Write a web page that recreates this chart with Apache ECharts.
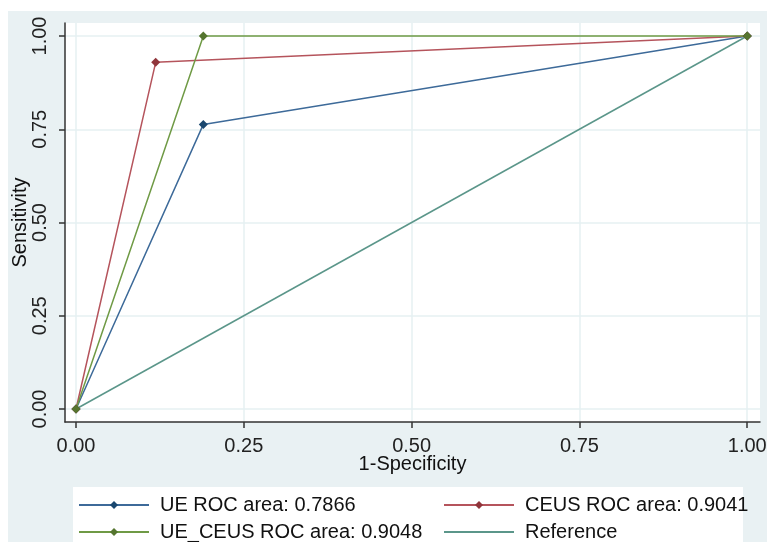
<!DOCTYPE html>
<html>
<head>
<meta charset="utf-8">
<script src="https://cdn.jsdelivr.net/npm/echarts@6/dist/echarts.min.js"></script>
<style>
  html, body { margin: 0; padding: 0; background: #fff; }
  #roc { width: 767px; height: 542px; }
</style>
</head>
<body>
<div id="roc"></div>
<script>
// ROC points: 1-Specificity (x) and Sensitivity (y)
var ueX = [0, 0.1897, 1];
var ueY = [0, 0.763, 1];
var ceusX = [0, 0.1187, 1];
var ceusY = [0, 0.9295, 1];
var ueCeusX = [0, 0.1897, 1];
var ueCeusY = [0, 1, 1];
var refX = [0, 1];
var refY = [0, 1];
var tickValues = [0, 0.25, 0.5, 0.75, 1];
var names = ['UE ROC area: 0.7866', 'CEUS ROC area: 0.9041', 'UE_CEUS ROC area: 0.9048', 'Reference'];

var pairs = function (xs, ys) {
    var res = [];
    for (var i = 0; i < xs.length; i++) {
        res.push([xs[i], ys[i]]);
    }
    return res;
};

var myChart = echarts.init(document.getElementById('roc'));
var font = 'Liberation Sans, Arial, sans-serif';

var rocSeries = function (name, xs, ys, lineColor, dotColor, showSym) {
    return {
        name: name,
        type: 'line',
        data: pairs(xs, ys),
        symbol: showSym ? 'diamond' : 'none',
        symbolSize: 9,
        showSymbol: showSym,
        itemStyle: { color: dotColor },
        lineStyle: { color: lineColor, width: 1.5 },
        animation: false
    };
};

// one legend per item so the 2x2 layout is fixed
var legendItem = function (name, left, top, noMarker) {
    var item = { name: name };
    if (noMarker) {
        item.itemStyle = { opacity: 0 };
    }
    return {
        data: [item],
        left: left, top: top,
        padding: 0,
        itemWidth: 70, itemHeight: 10, itemGap: 0,
        textStyle: { fontFamily: font, fontSize: 20, color: '#111', padding: [0, 0, 0, 6] }
    };
};

var option = {
    backgroundColor: '#fff',
    graphic: [
        { type: 'rect', shape: { x: 8, y: 11, width: 759, height: 531 }, style: { fill: '#e9f1f3' }, z: -10 },
        { type: 'rect', shape: { x: 65, y: 23, width: 695, height: 399 }, style: { fill: '#fff' }, z: -9 },
        { type: 'rect', shape: { x: 73, y: 487, width: 670, height: 55 }, style: { fill: '#fff' }, z: -9 }
    ],
    grid: { left: 65, right: 7, top: 23, bottom: 120, containLabel: false, outerBoundsMode: 'none' },
    legend: [
        legendItem(names[0], 78, 495),
        legendItem(names[2], 78, 522),
        legendItem(names[1], 443, 495),
        legendItem(names[3], 443, 522, true)
    ],
    xAxis: {
        type: 'value',
        min: -0.0164, max: 1.019,
        name: '1-Specificity',
        nameLocation: 'middle',
        nameGap: 32,
        nameMoveOverlap: false,
        nameTextStyle: { fontFamily: font, fontSize: 20, color: '#111' },
        axisLine: { show: true, onZero: false, lineStyle: { color: '#333', width: 1.5 } },
        axisTick: { show: true, length: 6, customValues: tickValues, lineStyle: { color: '#333', width: 1.5 } },
        axisLabel: {
            customValues: tickValues, margin: 14,
            fontFamily: font, fontSize: 20, color: '#222',
            formatter: function (v) { return v.toFixed(2); }
        },
        splitLine: { show: true, lineStyle: { color: '#e6f0f2', width: 1.5 } }
    },
    yAxis: {
        type: 'value',
        min: -0.0349, max: 1.0349,
        name: 'Sensitivity',
        nameLocation: 'middle',
        nameGap: 35,
        nameMoveOverlap: false,
        nameTextStyle: { fontFamily: font, fontSize: 20, color: '#111' },
        axisLine: { show: true, onZero: false, lineStyle: { color: '#333', width: 1.5 } },
        axisTick: { show: true, length: 6, customValues: tickValues, lineStyle: { color: '#333', width: 1.5 } },
        axisLabel: {
            customValues: tickValues, margin: 15, rotate: 90,
            fontFamily: font, fontSize: 20, color: '#222',
            formatter: function (v) { return v.toFixed(2); }
        },
        splitLine: { show: true, lineStyle: { color: '#e6f0f2', width: 1.5 } }
    },
    series: [
        rocSeries(names[0], ueX, ueY, '#3d6a99', '#1a476f', true),
        rocSeries(names[1], ceusX, ceusY, '#b5545c', '#90353b', true),
        rocSeries(names[3], refX, refY, '#5b968a', '#5b968a', false),
        rocSeries(names[2], ueCeusX, ueCeusY, '#6f9a45', '#55752f', true)
    ]
};

myChart.setOption(option);
window.addEventListener('resize', function () {
    myChart.resize();
});
</script>
</body>
</html>
